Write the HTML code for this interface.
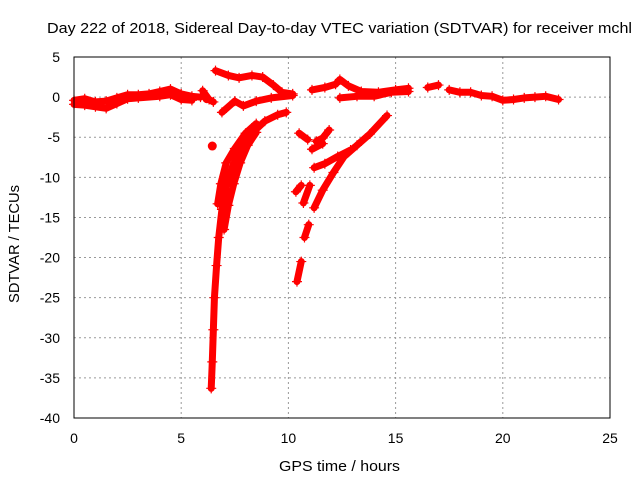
<!DOCTYPE html>
<html><head><meta charset="utf-8"><style>
body{margin:0;background:#fff}
svg text{font-family:"Liberation Sans",sans-serif;font-size:14px;fill:#000}
</style></head><body>
<svg id="c" width="640" height="480" xmlns="http://www.w3.org/2000/svg">
<text x="47" y="33" textLength="585" lengthAdjust="spacingAndGlyphs" style="font-size:15px">Day 222 of 2018, Sidereal Day-to-day VTEC variation (SDTVAR) for receiver mchl</text>
<text x="279" y="471" textLength="121" lengthAdjust="spacingAndGlyphs" style="font-size:15px">GPS time / hours</text>
<text transform="translate(19,303) rotate(-90)" textLength="118" lengthAdjust="spacingAndGlyphs" style="font-size:15px">SDTVAR / TECUs</text>
<g id="grid"></g><g id="ticks"></g><g id="data"></g>
<rect x="74" y="57" width="536" height="361" fill="none" stroke="#000" stroke-width="1"/>
</svg>
<script>
const xTicks=[0,5,10,15,20,25];
const yTicks=[5,0,-5,-10,-15,-20,-25,-30,-35,-40];
const trackA=[[0,-0.4],[0.5,-0.2],[1,-0.6],[1.5,-0.5],[2,-0.1],[2.5,0.3],[3,0.3],[3.5,0.4],[4,0.7],[4.5,1.0],[5,0.4],[5.5,0.1],[5.9,0]];
const trackA2=[[0,-0.9],[0.5,-1.0],[1,-1.2],[1.5,-1.4],[2,-0.8],[2.5,-0.2],[3,-0.1],[4,0.1],[4.5,0.3],[5,-0.3],[5.5,-0.4]];
const trackA3=[[6.0,0.8],[6.3,-0.3],[6.5,-0.6]];
const trackB=[[6.6,3.3],[7.2,2.7],[7.7,2.4],[8.3,2.7],[8.8,2.5],[9.3,1.5],[9.7,0.6],[10.2,0.4]];
const trackC=[[6.9,-1.9],[7.5,-0.5],[7.9,-1.1],[8.5,-0.5],[9.2,-0.1],[10.2,0.2]];
const trackD=[[6.4,-36.3],[6.45,-33],[6.5,-29],[6.55,-25],[6.65,-21],[6.75,-17.5],[6.9,-14],[7.1,-11],[7.4,-8.6],[7.8,-6.3],[8.3,-4.5],[8.9,-3.0],[9.5,-2.2],[9.9,-1.9]];
const trackE=[[6.7,-13.3],[6.85,-10.8],[7.1,-8.2],[7.5,-6.4],[8.0,-4.5],[8.5,-3.3]];
const trackF=[[7.0,-16.5],[7.2,-13.5],[7.45,-10.8],[7.75,-8.2],[8.1,-6],[8.5,-4.4]];
const trackG=[[10.4,-23],[10.6,-20.5]];
const trackG2=[[10.75,-17.5],[10.95,-15.9]];
const trackH=[[10.35,-11.8],[10.6,-11]];
const trackH2=[[10.7,-13.2],[11.0,-11]];
const trackI=[[11.2,-13.8],[11.6,-11.6],[12.1,-9.4],[12.6,-7.4],[13.2,-6],[13.8,-4.6],[14.6,-2.3]];
const trackJ=[[11.2,-8.8],[11.7,-8.3],[12.3,-7.4],[12.9,-6.6]];
const trackK=[[10.5,-4.5],[10.9,-5.3]];
const trackK2=[[11.3,-5.5],[11.6,-5.1],[11.9,-4.1]];
const trackK3=[[11.1,-6.5],[11.6,-5.8]];
const trackL=[[11.1,0.9],[11.7,1.2],[12.2,1.6],[12.4,2.2],[12.8,1.4],[13.4,0.7],[14.2,0.6],[15.0,0.9],[15.6,1.1]];
const trackM=[[12.4,-0.1],[13.2,0.1],[14.0,0.1],[14.8,0.6],[15.6,0.7]];
const trackN=[[16.5,1.2],[17,1.5]];
const trackO=[[17.5,0.9],[18.0,0.6],[18.5,0.6],[19.0,0.2],[19.5,0.1],[20.0,-0.4],[20.5,-0.3],[21.0,-0.1],[21.5,0],[22.0,0.1],[22.6,-0.3]];
const blobs=[[6.45,-6.1],[6.2,-0.2]];
const tracks=[trackA,trackA2,trackA3,trackB,trackC,trackD,trackE,trackF,trackG,trackG2,trackH,trackH2,trackI,trackJ,trackK,trackK2,trackK3,trackL,trackM,trackN,trackO];
const X0=74,X1=610,Y0=57,Y1=418;
const sx=h=>X0+(h-0)/(25-0)*(X1-X0);
const sy=v=>Y0+(5-v)/(5-(-40))*(Y1-Y0);
const NS="http://www.w3.org/2000/svg";
const mk=(t,a,p)=>{const e=document.createElementNS(NS,t);for(const k in a)e.setAttribute(k,a[k]);p.appendChild(e);return e;};
const grid=document.getElementById('grid'),ticks=document.getElementById('ticks'),data=document.getElementById('data');
xTicks.forEach(t=>{const x=sx(t);
 if(t>0&&t<25){const g=mk('line',{x1:x,x2:x,y1:Y0,y2:Y1,stroke:'#999','stroke-dasharray':'2,3'},grid);
 
 }
 const l=mk('text',{x:x,y:443,'text-anchor':'middle'},ticks);l.textContent=t;
 
 });
yTicks.forEach(t=>{const y=sy(t);
 if(t<5&&t>-40){const g=mk('line',{x1:X0,x2:X1,y1:y,y2:y,stroke:'#999','stroke-dasharray':'2,3'},grid);
 
 }
 const l=mk('text',{x:60,y:y+5,'text-anchor':'end'},ticks);l.textContent=t;
 
 });
tracks.forEach(tr=>{
 const p=mk('polyline',{points:tr.map(d=>sx(d[0])+','+sy(d[1])).join(' '),fill:'none',stroke:'#f00','stroke-width':7,'stroke-linecap':'round','stroke-linejoin':'round'},data);
 
 
 tr.forEach(d=>{const x=sx(d[0]),y=sy(d[1]);
  const m=mk('path',{d:`M${x-5},${y}h10M${x},${y-5}v10`,stroke:'#f00','stroke-width':1.2},data);
  
  });
});
blobs.forEach(d=>{const c=mk('circle',{cx:sx(d[0]),cy:sy(d[1]),r:4.5,fill:'#f00'},data);
 
 });
</script>
</body></html>
